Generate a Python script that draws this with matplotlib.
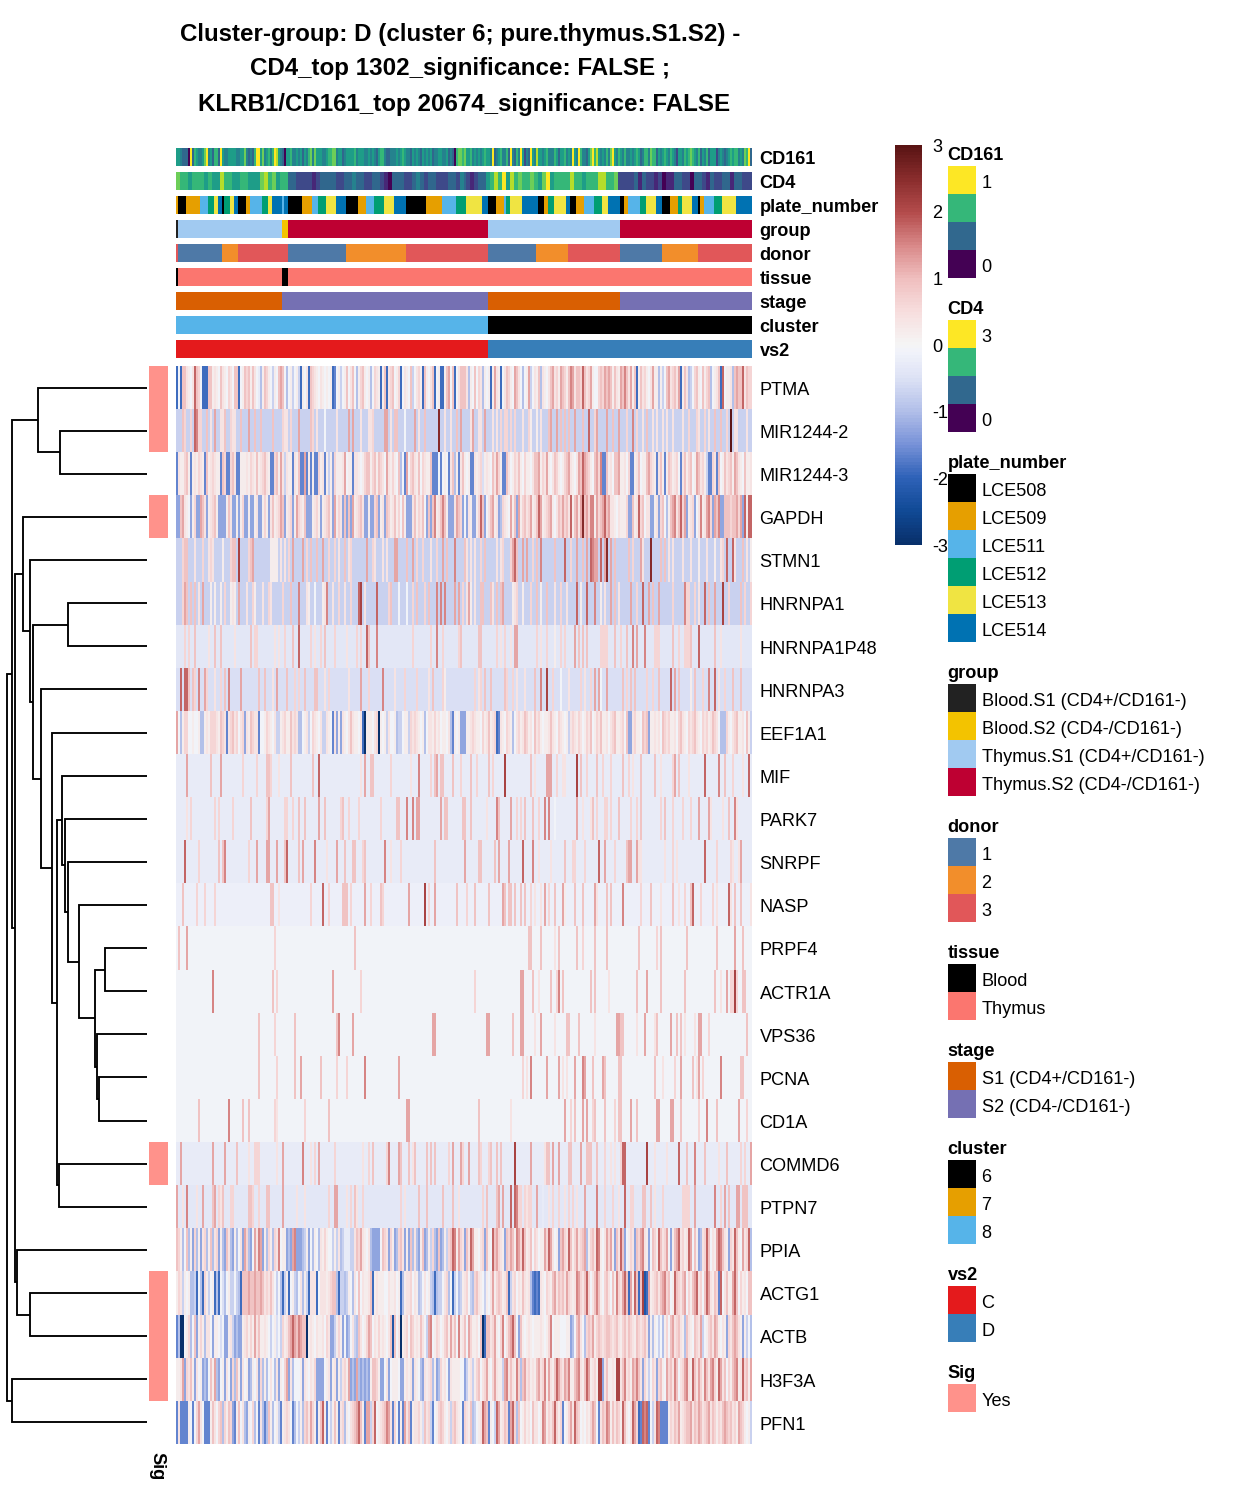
import numpy as np
from matplotlib import pyplot as plt
from matplotlib.colors import LinearSegmentedColormap, ListedColormap
from matplotlib.patches import Rectangle

plt.rcParams['font.family'] = ['Liberation Sans', 'DejaVu Sans']

W = 1248
H = 1497
N_COLS = 288

genes = ['PTMA', 'MIR1244-2', 'MIR1244-3', 'GAPDH', 'STMN1', 'HNRNPA1', 'HNRNPA1P48', 'HNRNPA3', 'EEF1A1',
         'MIF', 'PARK7', 'SNRPF', 'NASP', 'PRPF4', 'ACTR1A', 'VPS36', 'PCNA', 'CD1A', 'COMMD6', 'PTPN7',
         'PPIA', 'ACTG1', 'ACTB', 'H3F3A', 'PFN1']

# z-score for each letter used in the rows below
LEVELS = dict(zip('abcdefghijklmnopqrstuv',
                  [-3, -2.2, -1.9, -1.6, -1.3, -1.0, -0.75, -0.55, -0.3, -0.1,
                   0.15, 0.35, 0.6, 0.9, 1.2, 1.5, 1.8, 2.1, 2.5, 2.9, -0.18, -0.38]))

# rows read stripe by stripe: base letter, column of each stripe, letter of each stripe
MIR2_base = 'g'
MIR2_cols = [3,4,7,9,10,11,12,15,17,19,22,23,24,27,28,29,32,36,39,42,48,53,54,55,57,61,67,68,70,74,80,86,88,92,96,97,98,104,105,107,109,110,114,119,121,124,131,134,137,140,142,147,148,151,152,154,158,160,162,164,165,167,169,173,176,177,180,182,186,187,190,192,194,196,199,203,206,209,210,215,218,221,225,228,230,233,235,238,240,243,245,248,253,256,260,261,264,266,269,272,275,277,279,280,285]
MIR2_vals = 'nmmqpmmnlollnmllnonnnmllmonmljloolllmoolnnjolnsllnolollollmmmmmlmkklnoonnnonqmoonompmlnllllllmmlmlnnmtllllk'
STMN1_base = 'g'
STMN1_cols = [3,4,5,9,13,16,17,18,23,27,28,29,31,36,37,38,47,48,49,50,52,54,56,58,63,65,67,70,73,76,79,81,84,86,87,95,98,99,103,105,109,110,115,118,120,123,127,130,133,135,139,144,145,147,149,152,154,160,162,163,167,168,169,170,173,175,178,180,182,186,189,194,197,200,203,205,207,208,209,210,212,214,215,217,219,226,228,232,233,237,242,244,246,248,253,257,261,265,269,272,273,275,278,279,283,285,287]
STMN1_vals = 'mnnlmlmlkmnnrmnokkkkllmoomnnommlnlmomllloonommlmonpnlllmnllmmoqnoomnpgnqmonoqpooqosonnmolsnnllllklklmqqlnlkkl'
HNRNPA1_base = 'g'
HNRNPA1_cols = [3,4,5,7,9,11,13,17,19,22,24,27,28,29,31,35,38,39,43,46,47,53,57,61,65,66,69,73,74,75,78,81,84,87,91,92,94,100,106,107,111,115,118,120,124,126,130,132,134,139,141,143,145,146,147,149,152,153,157,158,160,162,163,168,169,170,173,177,180,182,185,189,192,195,200,202,205,209,212,214,217,219,221,227,230,233,236,238,241,248,254,255,256,259,261,264,266,269,273,276,282,284,287]
HNRNPA1_vals = 'monnnlokkkmklkolmklmlmnplkjklplmlmqrlqmnjjmnmnpppoomloklnnnlnnoklmkmnknlmlqkqpklonlomqonompmmmlqnormnmml'
P48_base = 'v'
P48_cols = [4,6,9,16,19,22,29,37,39,40,49,51,54,58,61,67,69,72,74,79,85,90,92,95,96,100,118,127,130,133,141,142,151,152,160,162,164,167,169,170,180,182,185,189,192,194,199,201,203,205,212,213,214,215,219,222,225,228,230,234,239,240,241,248,251,254,255,256,257,261,269,272,282,286]
P48_vals = 'mmnlnnlnmmllmnqmlmnmlmmqnpmmpmmnnnmlmloomlmkmmonnnmmmmnmnpopmmmnmmmmnqnll'
HNRNPA3_base = 'h'
HNRNPA3_cols = [2,4,5,6,8,9,11,14,15,19,22,24,26,32,41,44,48,50,55,59,61,64,69,70,74,76,86,92,96,103,109,114,120,126,128,133,134,149,151,152,154,157,164,165,168,170,174,179,182,185,188,192,196,202,204,207,209,211,212,215,223,225,227,229,235,238,241,247,249,251,257,259,263,266,269,271,274,278,282,284]
HNRNPA3_vals = 'qqqnnmpomlmnponnlonmmnnnlmlomplmmlnmkmlmnnnmmllnprmjlmlmoojonmnnmmnqonknmpqlmnn'
MIF_base = 'i'
MIF_cols = [5,17,22,33,40,45,46,47,51,57,68,71,92,94,97,98,107,117,121,127,129,130,132,133,138,142,147,150,156,158,164,177,179,185,186,187,190,193,194,200,202,205,210,213,217,223,226,228,232,239,242,248,249,251,256,264,271,274,278,283,286]
MIF_vals = 'onommnnmlnnqlonnmlpmnonnnmnmnmrnlooomllrnmnmmnmlnnlmonlqpnmlq'
PARK7_base = 'i'
PARK7_cols = [5,7,19,21,28,37,45,46,54,55,58,61,64,71,74,82,83,86,91,102,110,111,115,118,120,121,132,134,135,143,144,147,155,160,161,167,170,172,174,178,181,184,186,189,200,203,207,208,210,214,215,217,221,227,230,232,242,244,248,253,257,261,266,267,273,276,279,280,286]
PARK7_vals = 'lmmmmnmommmnnonmnmmmnnppooonnnnnlpnommnnmppjollnmmmmnmmnmnmmmoollnpl'
SNRPF_base = 'i'
SNRPF_cols = [4,11,21,23,24,36,40,45,46,50,54,55,61,63,69,75,80,84,88,89,93,94,104,107,112,129,144,151,152,159,161,166,173,178,181,187,194,198,199,204,211,214,219,225,226,227,230,231,232,244,248,250,264,270,277,278,281,282]
SNRPF_vals = 'qmnnpmoooonqnoplonnnmnplmnonnnooqpllnmmmqomnooolllmlqmmlloq'
NASP_base = 'u'
NASP_cols = [3,10,14,19,47,48,51,67,73,76,83,84,85,87,94,97,102,103,116,124,126,129,140,145,149,156,163,164,166,167,169,172,174,177,179,182,184,186,189,193,194,199,203,209,210,215,217,223,232,237,242,248,251,254,257,258,262,268,270,276,277,279,282,287]
NASP_vals = 'nmmmnnlmqmnnnmomnmormonmnnonnnnnnmllomnoknnolnnpmnlnlmnqmmlqlnnln'
PRPF4_base = 'j'
PRPF4_cols = [1,5,49,89,176,177,182,189,191,200,203,209,215,231,240,242,255,270,279,283]
PRPF4_vals = 'nomnnnnlnnmnnnmnnnon'
ACTR1A_base = 'j'
ACTR1A_cols = [18,48,50,78,92,149,172,173,178,181,187,190,191,193,207,209,216,230,235,242,254,269,272,275,277,278,279,280,283,284]
ACTR1A_vals = 'pnmommoonlnmpnnnlnonnnlommrmnn'
VPS36_base = 'j'
VPS36_cols = [41,49,59,80,81,88,128,129,155,156,168,172,173,179,182,189,195,196,201,209,220,221,222,223,230,234,239,240,247,250,252,254,259,261,262,266,285]
VPS36_vals = 'nmnnpooooonoololnnnloonnlolnonnlloomn'
PCNA_base = 'j'
PCNA_cols = [41,50,59,62,72,80,85,94,111,173,175,177,185,191,193,195,199,203,204,208,213,214,221,222,239,243,249,252,258,260,261,263,272,282,283]
PCNA_vals = 'nmnonmmpomlpoollopononnnnlmonlompnn'
CD1A_base = 'j'
CD1A_cols = [11,26,33,36,49,50,64,76,115,116,151,167,194,197,199,203,205,208,209,214,219,221,222,227,230,240,241,247,248,252,261,265,270,281,285]
CD1A_vals = 'npnnmlmnoonlomnoomnnmnnonoooonmpnom'
COMMD6_base = 'i'
COMMD6_cols = [2,18,24,30,36,39,40,41,50,53,63,67,69,71,79,93,96,98,105,106,111,112,116,118,119,125,127,129,136,138,142,143,146,151,152,156,157,160,162,169,177,184,185,186,188,191,196,197,202,205,206,207,210,214,217,219,222,223,224,235,239,245,251,255,259,264,271,275,282,284,287]
COMMD6_vals = 'ooonlmmmlopl'   'momlmnmponnlnnnnmoomonmmnnnrolnnoonnonnnnmllmqqrllqnpnlnmmon'
PTPN7_base = 'v'
PTPN7_cols = [0,3,5,10,13,18,19,21,22,23,27,28,36,37,38,41,45,46,53,60,64,76,79,80,85,87,89,90,93,112,114,121,125,133,138,141,153,155,160,161,163,167,169,170,171,172,174,175,176,177,180,183,186,188,191,194,196,198,200,204,210,214,218,221,224,227,228,233,234,237,239,243,253,254,255,256,259,269,272,274,276,280,281,283,284,285]
PTPN7_vals = 'olplonomlnmmnnmmnnollmoolmnlmmlnnnnlmnnooqqpmmmlmmoilmmlmmlopmmlqmmnnnlmmmmmopmonoonnn'

# rows too busy to split up: one letter per column, blocks of twelve
PTMA = ('cjcnnlkjlqnm jcccnnklkjnl kjmljnncjknm nknljifknmkj gkjnonjfjkgj kgckjlcnmlkj '
        'lkjkjkcdjkgj knjlnjfkmnkj kfjmlkcknclm njkmcjlkjngj lmkcnkjlncjk ccknojncjlnn '
        'nlfkjnjmlfkj kckolkcjlnmk jonljfjkogjl knflkjlnolmk onmknpolnnmq nlmokjjmnmon '
        'onknlkonpnlo kncknlmkjlok kfkgjnolmnlo cknlfgjmnkjn kmnfjklncqjk klfnonnqlnmm')
MIR3 = ('dlkkmnkdklkm lkdnklmlkkdn mddmnlddkkkl kmlknklmnlkd dmnkolglkkdl knddodkdkddm '
        'kldkgkemkkkl ojkkdllkjkmn nkmnknmljolk mkjnfjdojmnl knjmlkknddd j djkjdlnfkdln '
        'kjkddlklmhkl kjnlomkddnlj kmlnkjmkkjln nokmlokjlnmk jkmnolkjlonq onmkjnompddn '
        'kljnnokkljmd dklnjkknomlk dlnkdknmklmj dlnkmnjkonlm kgddmldnjknl mnkonlkjnkkl')
GAPDH = ('eenolkjekmee onleklmnkeee eknleekekmee keeklee kmkel nklmonekl mek omlkneeeklmk '
         'eklmnkeokmle neneoklmnlee keemneklenmk lnkmjnkeeeln kmlnjenenpkl npnkeeelonme '
         'jelkeekmqnej lnoklefmlkjo kneokmnlmokl nqoklmnokjln momnlqknolos nomppkomnoqn '
         'ollkjlkkkmee nklqmnjlleek lemnjfknopln qmoeklmejlpk lopmeonpeenn nmnnomoeqkqq')
EEF1A1 = ('ojfkmmjjkjjk ffklkmmmlknm ldlmnlmjlmel knmlldjjkmlk jlggklmkknlm lffjklgjmlkj '
          'lgglkjdlekel kjlnlkkjlcak kkjlmakjkglj jkfggjkkgmlm lkjkfjllkmkl jkkjlfdkjkee '
          'ekklmlkkjmkl nklmcdlkjmlk fjlmklnmkljn lmkjkklnlkjm lkjkglmlkmlj kmlnjkmlnkkl '
          'jlmnkklmjnee lmkkjnmnekkl kljnmlmkkljm nlkjmlmnlkjm lmklnmljfffm kjlmnkkljnkg')
PPIA = ('nmkfjnfkemfk elmfknflmekf enlfekfjleom fejolpoekfmk fmlpjkkefeop eeefgkejfkjf '
        'lkmkjjgkglfg iiigglnmolkj lfeeeejnmlem kefmnlekenfl feknefkgmfen efkgmnqpkoml '
        'enlqokkjlmen kjqnomlkenmo nkpomqnklnjm ljkkomqoljke nomlqnkmolmn ofkmnlqpkjlo '
        'mokenlqnejkm lenmoplkejnm kqnlmojeknoq lmklqojnkefl mqnjlkoqpnlk emlqnkjolmqf')
ACTG1 = ('kmlgkjkffgcj fcmkgjkcfcjh fjkggjgfcnnn onnonnonlmln ljgjfcgkcjkg fjlfkgclllcj '
         'lllklmnnfcgg fgkjfljnjlkk lncklkkkjjlk kljkcfkllmjl kfgjljkgfcfg gjlmfjcgjfgk '
         'lmjgfmnlkjgk jlokmnmklncg lmjlknlklfdc dclkjmlknoln mnlomlklpoml nqmjlnpnkjmn '
         'ljnkpmloqnco kqncnrbcoklm nlnopmnjkqnm lnojmknoqlmj nqolknmdqjln kkoqnjmkljnn')
ACTB = ('dfaajkmfjnek mkflljekkjhj eeklgefeeklm kmkolnkklkjg jkhjgmklnoqo nponnaklkjlk '
        'kljmleegkmke jefjlgfnljkm onjlkmklkjln bnjlaklmjnmk lknljgopjkml jkmnkolnjpkl '
        'njomkkljnacn nlmokjmpjlno qnjenkjklkjk kklkjkmpjkkk jjjkkefjnolj fmnmokmnmlmn '
        'nmlmnlkmnlnm lknmlmnlekfk jgjfkmjnolmn lkfnlkjnmlog jkmnlonkjlke mlnonlkekgjf')
H3F3A = ('kkloemlnkelj kefejnkofejk eljemfnkeljk efkjlemfkfjl jflekjmoelfj jjkelkjlkmee '
         'eejkleklekgl mkoefeofefef eknnmkeejlej kkkjeeklklel kjfelklmfkef mkljelkkkkjj '
         'egklgkmnjlmo kjmolkkgopln lkpmfnolmklk nolmpkolknqo mlonpkknoplk nqoklmkrrelnk '
         'klkrrlnplmko npnlemkgjmle mnkjomnlpnjl moplkqnlomkp nlopmkqolnjm knopklqmnkog')
PFN1 = ('dlddddkjdjmo ljdddknljmnf mknmedknjlfe kjmfjdlfdfnk fjkgdklmljdf jgkfmnlomkdk '
        'nqkdjgknkdlm fkjlmnoqnkdo ogmqjklmnpol dmjdkdolndkl lmkhnlmgdjkm nmkjlgmnlkjd '
        'mlknfgjklqon dkjgqoklnmdo qmfnjkmkljnl ljkpokmlnqmk mdjkmolqnmjk jlkmonjdlnmp '
        'oknlnmkqnkjl qomcdqpqdjgl qpddddkmlnmo klmnnolnmonl mnolnmkmlnon mnlmkonmkjkg')

# annotation tracks, 0 = bottom and 9 = top of the scale
CD161 = ('554333093654 457945366395 445555445574 343699574564 698543055644 545354674755 '
         '544566774553 455556455544 545435664334 445456544354 543545453445 544534306776 '
         '755645454565 549345644639 436495243954 855456444653 556454954964 435796854546 '
         '479546546445 456534664766 354565465425 546567654635 463555245434 565664547693')
CD4 = ('7665666565586655665557867566'
       '33222212333322334332233210333223432332223324321233'
       '568695867667657956666866566688667'
       '2222313221201133220332132233133222')

plate_ids = ['LCE509','LCE508','LCE509','LCE511','LCE512','LCE513','LCE514','LCE508','LCE512','LCE513','LCE514','LCE508','LCE509','LCE511','LCE512','LCE513','LCE514','LCE511','LCE514',
             'LCE508','LCE509','LCE511','LCE512','LCE513','LCE514','LCE508','LCE509','LCE511','LCE512','LCE513','LCE514','LCE508','LCE509','LCE511','LCE512','LCE513','LCE514',
             'LCE508','LCE509','LCE511','LCE512','LCE513','LCE514','LCE508','LCE509','LCE512','LCE513','LCE514','LCE508','LCE509','LCE511','LCE512','LCE513','LCE514',
             'LCE508','LCE509','LCE511','LCE512','LCE513','LCE514','LCE508','LCE509','LCE512','LCE513','LCE514','LCE508','LCE509','LCE511','LCE512','LCE513','LCE514']
plate_runs = [1,4,7,4,3,2,2,1,3,2,2,4,2,6,3,2,5,1,2,
              7,5,3,4,5,5,6,4,4,5,5,6,10,8,7,5,8,3,
              4,4,1,2,6,8,3,2,3,6,2,3,4,5,4,3,6,
              2,2,6,3,5,3,4,4,2,5,3,1,2,5,4,7,8]
group_ids = ['Blood.S1', 'Thymus.S1', 'Blood.S2', 'Thymus.S2', 'Thymus.S1', 'Thymus.S2']
group_runs = [1, 52, 3, 100, 66, 66]
donor_ids = ['3', '1', '2', '3', '1', '2', '3', '1', '2', '3', '1', '2', '3']
donor_runs = [1, 22, 8, 25, 29, 30, 41, 24, 16, 26, 21, 18, 27]
tissue_ids = ['Blood', 'Thymus', 'Blood', 'Thymus']
tissue_runs = [1, 52, 3, 232]
stage_ids = ['S1', 'S2', 'S1', 'S2']
stage_runs = [53, 103, 66, 66]
cluster_ids = ['8', '6']
cluster_runs = [156, 132]
vs2_ids = ['C', 'D']
vs2_runs = [156, 132]
sig_rows = ['PTMA', 'MIR1244-2', 'GAPDH', 'COMMD6', 'ACTG1', 'ACTB', 'H3F3A']

plate_colors = {'LCE508': '#000000', 'LCE509': '#E69F00', 'LCE511': '#56B4E9', 'LCE512': '#009E73', 'LCE513': '#F0E442', 'LCE514': '#0072B2'}
group_colors = {'Blood.S1': '#222222', 'Blood.S2': '#F3C300', 'Thymus.S1': '#A1CAF1', 'Thymus.S2': '#BE0032'}
donor_colors = {'1': '#4E79A7', '2': '#F28E2B', '3': '#E15759'}
tissue_colors = {'Blood': '#000000', 'Thymus': '#FB766F'}
stage_colors = {'S1': '#D95F02', 'S2': '#7570B3'}
cluster_colors = {'6': '#000000', '7': '#E69F00', '8': '#56B4E9'}
vs2_colors = {'C': '#E41A1C', 'D': '#377EB8'}
SIG_COLOR = '#FF928B'
VIRIDIS_KEY = ['#FDE725', '#35B779', '#31688E', '#440154']

# dendrogram merges: children (<25 = row, >=25 = earlier merge) and merge height
merge_a = [1, 0, 5, 13, 16, 15, 28, 12, 11, 10, 9, 18, 35, 8, 7, 27, 4, 3, 21, 20, 42, 26, 23, 46]
merge_b = [2, 25, 6, 14, 17, 29, 30, 31, 32, 33, 34, 19, 36, 37, 38, 39, 40, 41, 22, 43, 44, 45, 24, 47]
merge_h = [87, 109.3, 79, 42.3, 48.3, 49.7, 52, 68, 78.7, 82.3, 85, 87.7, 89.7, 95.3, 105.7, 113.7, 117.3, 123.7, 116.7, 130.3, 132, 134.7, 135.3, 140.3]

title_lines = ['Cluster-group: D (cluster 6; pure.thymus.S1.S2) -',
               'CD4_top 1302_significance: FALSE ;',
               'KLRB1/CD161_top 20674_significance: FALSE']

cbar_colors = [(-3, '#08306B'), (-2.5, '#114A96'), (-2, '#2F62B8'), (-1.5, '#7892D8'), (-1, '#B2BFE9'), (-0.5, '#DDE2F5'), (-0.1, '#F1F3FA'), (0, '#F5F5F5'),
               (0.5, '#F7DEDE'), (1, '#F0BFBF'), (1.5, '#D98989'), (2, '#B44C4C'), (2.5, '#8A2D2D'), (3, '#5A1414')]
heat_cmap = LinearSegmentedColormap.from_list('heat', [((z + 3) / 6, c) for z, c in cbar_colors], N=120)


def px_axes(x0, y0, x1, y1, zorder=1):
    return fig.add_axes([x0 / W, 1 - y1 / H, (x1 - x0) / W, (y1 - y0) / H], zorder=zorder)


def letters_to_row(letters):
    vals = np.array([LEVELS[c] for c in letters.replace(' ', '')])
    return vals[np.arange(N_COLS) * len(vals) // N_COLS]


def stripes_to_row(base, cols, vals):
    row = np.full(N_COLS, LEVELS[base])
    for col, val in zip(cols, vals):
        row[col] = LEVELS[val]
    return row


matrix = np.array([
    letters_to_row(PTMA),
    stripes_to_row(MIR2_base, MIR2_cols, MIR2_vals),
    letters_to_row(MIR3),
    letters_to_row(GAPDH),
    stripes_to_row(STMN1_base, STMN1_cols, STMN1_vals),
    stripes_to_row(HNRNPA1_base, HNRNPA1_cols, HNRNPA1_vals),
    stripes_to_row(P48_base, P48_cols, P48_vals),
    stripes_to_row(HNRNPA3_base, HNRNPA3_cols, HNRNPA3_vals),
    letters_to_row(EEF1A1),
    stripes_to_row(MIF_base, MIF_cols, MIF_vals),
    stripes_to_row(PARK7_base, PARK7_cols, PARK7_vals),
    stripes_to_row(SNRPF_base, SNRPF_cols, SNRPF_vals),
    stripes_to_row(NASP_base, NASP_cols, NASP_vals),
    stripes_to_row(PRPF4_base, PRPF4_cols, PRPF4_vals),
    stripes_to_row(ACTR1A_base, ACTR1A_cols, ACTR1A_vals),
    stripes_to_row(VPS36_base, VPS36_cols, VPS36_vals),
    stripes_to_row(PCNA_base, PCNA_cols, PCNA_vals),
    stripes_to_row(CD1A_base, CD1A_cols, CD1A_vals),
    stripes_to_row(COMMD6_base, COMMD6_cols, COMMD6_vals),
    stripes_to_row(PTPN7_base, PTPN7_cols, PTPN7_vals),
    letters_to_row(PPIA),
    letters_to_row(ACTG1),
    letters_to_row(ACTB),
    letters_to_row(H3F3A),
    letters_to_row(PFN1),
])

fig = plt.figure(figsize=(W / 100, H / 100), dpi=100)

# main heatmap
HM_X0, HM_X1, HM_Y0, HM_Y1 = 176.4, 751.9, 366, 1444
ax = px_axes(HM_X0, HM_Y0, HM_X1, HM_Y1)
im = ax.imshow(matrix, aspect='auto', interpolation='nearest', cmap=heat_cmap, vmin=-3, vmax=3)
ax.axis('off')
row_h = (HM_Y1 - HM_Y0) / len(genes)


def categorical_track(y0, ids, runs, colors):
    names = list(colors)
    codes = np.repeat([names.index(i) for i in ids], runs)
    track = px_axes(HM_X0, y0, HM_X1, y0 + 18)
    track.imshow(codes[None, :], aspect='auto', interpolation='nearest',
                 cmap=ListedColormap(list(colors.values())), vmin=-0.5, vmax=len(names) - 0.5)
    track.axis('off')


def viridis_track(y0, digits):
    vals = np.array([int(c) / 9 for c in digits.replace(' ', '')])
    vals = vals[np.arange(N_COLS) * len(vals) // N_COLS]
    track = px_axes(HM_X0, y0, HM_X1, y0 + 18)
    track.imshow(vals[None, :], aspect='auto', interpolation='nearest', cmap='viridis', vmin=0, vmax=1)
    track.axis('off')


viridis_track(148, CD161)
viridis_track(172, CD4)
categorical_track(196, plate_ids, plate_runs, plate_colors)
categorical_track(220, group_ids, group_runs, group_colors)
categorical_track(244, donor_ids, donor_runs, donor_colors)
categorical_track(268, tissue_ids, tissue_runs, tissue_colors)
categorical_track(292, stage_ids, stage_runs, stage_colors)
categorical_track(316, cluster_ids, cluster_runs, cluster_colors)
categorical_track(340, vs2_ids, vs2_runs, vs2_colors)

# Sig column
sig_ax = px_axes(149, HM_Y0 + 0.4, 168, HM_Y1 + 0.4)
sig_col = np.array([[1.0 if g in sig_rows else 0.0] for g in genes])
sig_ax.imshow(sig_col, aspect='auto', interpolation='nearest', cmap=ListedColormap(['white', SIG_COLOR]), vmin=0, vmax=1)
sig_ax.axis('off')

# dendrogram, height 0 at the leaves
den = px_axes(0, HM_Y0, 147, HM_Y1)
den.set_xlim(147, 0)
den.set_ylim(len(genes), 0)
den.axis('off')
node_y = {i: i + 0.5 for i in range(len(genes))}
node_h = {i: 0 for i in range(len(genes))}
for k, (a, b, h) in enumerate(zip(merge_a, merge_b, merge_h)):
    den.plot([node_h[a], h, h, node_h[b]], [node_y[a], node_y[a], node_y[b], node_y[b]],
             color='black', lw=1.35, solid_joinstyle='miter', solid_capstyle='butt', clip_on=False)
    node_y[len(genes) + k] = (node_y[a] + node_y[b]) / 2
    node_h[len(genes) + k] = h

# colour bar
cax = px_axes(895, 145, 922, 545)
cb = fig.colorbar(im, cax=cax)
cb.outline.set_visible(False)
cb.set_ticks([-3, -2, -1, 0, 1, 2, 3])
cb.set_ticklabels(['-3', '-2', '-1', '0', '1', '2', '3'])
cax.tick_params(length=0, pad=7.5, labelsize=13.1)

# texts and legend key boxes in pixel coordinates on top of everything
top = fig.add_axes([0, 0, 1, 1], zorder=5)
top.set_xlim(0, W)
top.set_ylim(H, 0)
top.axis('off')
top.patch.set_alpha(0)

FS = 13.1
for line, y, x in zip(title_lines, [34, 68, 104], [460, 460, 464]):
    top.text(x, y, line, ha='center', va='center', fontsize=17.4, fontweight='bold')

track_names = ['CD161', 'CD4', 'plate_number', 'group', 'donor', 'tissue', 'stage', 'cluster', 'vs2']
for i, name in enumerate(track_names):
    top.text(759.5, 159.5 + 24 * i, name, ha='left', va='center', fontsize=FS, fontweight='bold')
for i, gene in enumerate(genes):
    top.text(759.5, HM_Y0 + row_h * (i + 0.5) + 2.8, gene, ha='left', va='center', fontsize=FS)
top.text(156.5, 1466, 'Sig', rotation=270, ha='center', va='center', fontsize=FS, fontweight='bold')


def key(y_title, title, colors, labels):
    top.text(947.5, y_title + 3, title, ha='left', va='center', fontsize=FS, fontweight='bold')
    y = y_title + 14
    for i, c in enumerate(colors):
        top.add_patch(Rectangle((948, y + 28 * i), 28, 28, facecolor=c, edgecolor='none'))
        if labels[i]:
            top.text(981.5, y + 28 * i + 17, labels[i], ha='left', va='center', fontsize=FS)


key(152, 'CD161', VIRIDIS_KEY, ['1', '', '', '0'])
key(306, 'CD4', VIRIDIS_KEY, ['3', '', '', '0'])
key(460, 'plate_number', list(plate_colors.values()), list(plate_colors))
key(670, 'group', list(group_colors.values()),
    ['Blood.S1 (CD4+/CD161-)', 'Blood.S2 (CD4-/CD161-)', 'Thymus.S1 (CD4+/CD161-)', 'Thymus.S2 (CD4-/CD161-)'])
key(824, 'donor', list(donor_colors.values()), list(donor_colors))
key(950, 'tissue', list(tissue_colors.values()), list(tissue_colors))
key(1048, 'stage', list(stage_colors.values()), ['S1 (CD4+/CD161-)', 'S2 (CD4-/CD161-)'])
key(1146, 'cluster', list(cluster_colors.values()), list(cluster_colors))
key(1272, 'vs2', list(vs2_colors.values()), list(vs2_colors))
key(1370, 'Sig', [SIG_COLOR], ['Yes'])

plt.savefig('out.png', dpi=100)
